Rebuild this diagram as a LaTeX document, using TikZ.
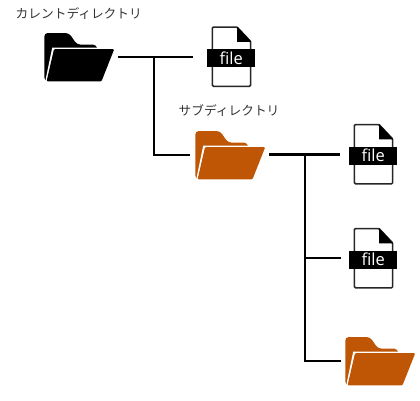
\documentclass[tikz,border=0pt]{standalone}
\usepackage{fontspec}
\setmainfont{Open Sans}
\newfontfamily\cjk{Noto Sans CJK JP}
\definecolor{subfolder}{HTML}{BF5605}
\definecolor{labelink}{HTML}{333333}
\tikzset{
  x=1pt,y=-1pt,
  conn/.style={line width=2.3pt,black},
  dirlabel/.style={inner sep=0pt,anchor=west,text=labelink,font=\cjk\fontsize{12.7}{14}\selectfont},
  folderpic/.pic={
    \fill[pic actions,rounded corners=3.5pt] (44.3,81) -- (44.3,33) -- (69,33) -- (77,44.6) -- (96.5,44.6) -- (97,50) -- (97,81) -- cycle;
    \fill[white] (52.2,47.7) -- (115,47.7) -- (102,82.5) -- (45,82.5) -- cycle;
    \fill[pic actions,rounded corners=1pt] (54,49.2) -- (114.2,49.2) -- (101.5,81.3) -- (46.6,81.3) -- cycle;
    \coordinate (-out) at (118,57);
    \coordinate (-in) at (42,57);
  },
  filepic/.pic={
    \draw[line width=1.5pt,black!85,rounded corners=1.2pt,fill=white] (212.3,86.3) -- (212.3,27) -- (237,27) -- (250.7,41.5) -- (250.7,86.3) -- cycle;
    \fill[black] (237,26.4) -- (251.3,41.8) -- (237,41.8) -- cycle;
    \node[fill=black,minimum width=47.6pt,minimum height=18pt,inner sep=0pt,text=white,font=\fontsize{16.5}{17}\selectfont] (-band) at (231.2,58) {file};
    \coordinate (-in) at (193,57);
  }
}
\begin{document}
\begin{tikzpicture}
\useasboundingbox (0,0) rectangle (420,400);
\node[dirlabel] (lblcur) at (15.5,14) {カレントディレクトリ};
\node[dirlabel] (lblsub) at (178.5,110.5) {サブディレクトリ};
\pic[black] (dirA) at (0,0) {folderpic};
\pic (fileA) at (0,0) {filepic};
\pic[subfolder] (dirB) at (151,98) {folderpic};
\pic (fileB) at (142,97.5) {filepic};
\pic (fileC) at (142,201.5) {filepic};
\pic[subfolder] (dirC) at (301,304) {folderpic};
\coordinate (jA) at (154,57);
\coordinate (jB) at (305,154.5);
\coordinate (jC) at (305,258);
\coordinate (endB) at (190,155);
\coordinate (endC) at (341,361);
\coordinate (endF) at (341,258);
\coordinate (dirBout) at (269,154.5);
\coordinate (fileBin) at (340,154.5);
\draw[conn] (dirA-out) -- (fileA-in);
\draw[conn] (jA) -- (jA |- endB) -- (endB);
\draw[conn] (dirBout) -- (fileBin);
\draw[conn] (jB) -- (jB |- endC) -- (endC);
\draw[conn] (jC) -- (endF);
\end{tikzpicture}
\end{document}
